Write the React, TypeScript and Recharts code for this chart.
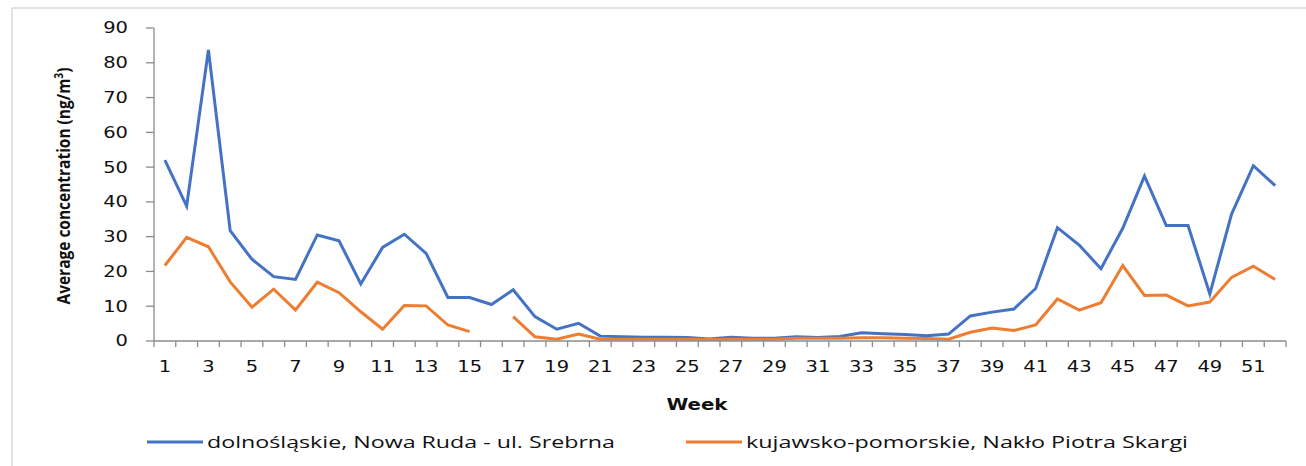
import React from "react";
import { LineChart, Line, XAxis, YAxis, Label } from "recharts";

const weeks = [
  "1", "2", "3", "4", "5", "6", "7", "8", "9", "10", "11", "12", "13",
  "14", "15", "16", "17", "18", "19", "20", "21", "22", "23", "24", "25", "26",
  "27", "28", "29", "30", "31", "32", "33", "34", "35", "36", "37", "38", "39",
  "40", "41", "42", "43", "44", "45", "46", "47", "48", "49", "50", "51", "52",
];

const nowaRuda = [
  52.0, 38.8, 83.7, 31.7, 23.5, 18.5, 17.7, 30.5, 28.8, 16.4, 26.9, 30.7, 25.2,
  12.5, 12.5, 10.5, 14.7, 7.0, 3.4, 5.1, 1.4, 1.2, 1.1, 1.1, 1.0, 0.6,
  1.1, 0.8, 0.8, 1.2, 1.0, 1.3, 2.4, 2.1, 1.9, 1.5, 2.0, 7.2, 8.3,
  9.2, 15.1, 32.6, 27.6, 20.8, 32.4, 47.4, 33.2, 33.2, 13.5, 36.5, 50.4, 44.7,
];

const naklo = [
  21.7, 29.8, 27.1, 17.0, 9.7, 14.9, 8.9, 16.9, 13.9, 8.4, 3.4, 10.2, 10.1,
  4.6, 2.7, null, 7.0, 1.2, 0.5, 2.0, 0.5, 0.5, 0.5, 0.5, 0.5, 0.4,
  0.5, 0.5, 0.5, 0.8, 0.8, 0.8, 0.9, 0.9, 0.8, 0.7, 0.5, 2.5, 3.7,
  3.0, 4.6, 12.1, 8.9, 11.0, 21.7, 13.1, 13.2, 10.1, 11.2, 18.3, 21.5, 17.7,
];

const yTicks = [0, 10, 20, 30, 40, 50, 60, 70, 80, 90];

const seriesNames = [
  "dolnośląskie, Nowa Ruda - ul. Srebrna",
  "kujawsko-pomorskie, Nakło Piotra Skargi",
];

const data = weeks.map((w, i) => ({ week: w, nowa: nowaRuda[i], naklo: naklo[i] }));

const W = 1306;
const H = 466;
const PLOT_LEFT = 154;
const PLOT_RIGHT = 1286;
const PLOT_TOP = 28;
const PLOT_BOTTOM = 341;
const BAND = (PLOT_RIGHT - PLOT_LEFT) / weeks.length;
const AXIS = "#8c8c8c";
const BLUE = "#4472C4";
const ORANGE = "#ED7D31";
const TICK_FONT = "'DejaVu Sans', Verdana, sans-serif";

const XTick = (props: any) => {
  const { x, y, index } = props;
  const left = x - BAND / 2;
  return (
    <g>
      <line x1={left} y1={y} x2={left} y2={y + 6} stroke={AXIS} strokeWidth={1.3} />
      {index === weeks.length - 1 && (
        <line x1={x + BAND / 2} y1={y} x2={x + BAND / 2} y2={y + 6} stroke={AXIS} strokeWidth={1.3} />
      )}
      {index % 2 === 0 && (
        <text
          transform={`translate(${x},${y + 31}) scale(1.3,1)`}
          textAnchor="middle"
          fontFamily={TICK_FONT}
          fontSize={15}
          fill="#111"
        >
          {props.payload.value}
        </text>
      )}
    </g>
  );
};

const YTick = (props: any) => {
  const { x, y, payload } = props;
  return (
    <text
      transform={`translate(${x},${y}) scale(1.3,1)`}
      textAnchor="end"
      dy="0.36em"
      fontFamily={TICK_FONT}
      fontSize={15}
      fill="#111"
    >
      {payload.value}
    </text>
  );
};

const YTitle = () => (
  <text
    transform="translate(70,186) rotate(-90)"
    textAnchor="middle"
    fontFamily="'Open Sans', sans-serif"
    fontWeight="bold"
    fontSize={18}
    fill="#111"
    textLength={237}
    lengthAdjust="spacingAndGlyphs"
  >
    Average concentration (ng/m
    <tspan fontSize={12} dy={-7}>3</tspan>
    <tspan dy={7}>)</tspan>
  </text>
);

const XTitle = () => (
  <text
    x={697}
    y={410}
    textAnchor="middle"
    fontFamily={TICK_FONT}
    fontWeight="bold"
    fontSize={15}
    fill="#111"
    textLength={61}
    lengthAdjust="spacingAndGlyphs"
  >
    Week
  </text>
);

const LegendOverlay = () => (
  <svg width={W} height={H} style={{ position: "absolute", left: 0, top: 0, pointerEvents: "none" }}>
    <line x1={12} y1={8} x2={W} y2={8} stroke="#d9d9d9" strokeWidth={1.5} />
    <line x1={12} y1={8} x2={12} y2={H} stroke="#d9d9d9" strokeWidth={1.5} />
    <line x1={147} y1={442} x2={203} y2={442} stroke={BLUE} strokeWidth={3} />
    <text
      x={207}
      y={448}
      fontFamily="'Open Sans', sans-serif"
      fontSize={16}
      fill="#111"
      textLength={408}
      lengthAdjust="spacingAndGlyphs"
    >
      {seriesNames[0]}
    </text>
    <line x1={686} y1={442} x2={742} y2={442} stroke={ORANGE} strokeWidth={3} />
    <text
      x={746}
      y={448}
      fontFamily="'Open Sans', sans-serif"
      fontSize={16}
      fill="#111"
      textLength={442}
      lengthAdjust="spacingAndGlyphs"
    >
      {seriesNames[1]}
    </text>
  </svg>
);

export default function App() {
  return (
    <div style={{ position: "absolute", left: 0, top: 0, width: W, height: H, background: "#fff" }}>
      <LineChart
        width={W}
        height={H}
        data={data}
        margin={{ top: PLOT_TOP, right: W - PLOT_RIGHT, bottom: 0, left: 0 }}
      >
        <XAxis
          dataKey="week"
          interval={0}
          padding={{ left: BAND / 2, right: BAND / 2 }}
          tickLine={false}
          tickSize={0}
          tickMargin={0}
          tick={<XTick />}
          height={H - PLOT_BOTTOM}
          axisLine={{ stroke: AXIS, strokeWidth: 1.3 }}
        >
          <Label content={<XTitle />} />
        </XAxis>
        <YAxis
          width={PLOT_LEFT}
          domain={[0, 90]}
          ticks={yTicks}
          interval={0}
          tickSize={8}
          tickMargin={18}
          tick={<YTick />}
          tickLine={{ stroke: AXIS, strokeWidth: 1.3 }}
          axisLine={{ stroke: AXIS, strokeWidth: 1.3 }}
        >
          <Label content={<YTitle />} />
        </YAxis>
        <Line
          type="linear"
          dataKey="nowa"
          name={seriesNames[0]}
          stroke={BLUE}
          strokeWidth={3}
          dot={false}
          isAnimationActive={false}
        />
        <Line
          type="linear"
          dataKey="naklo"
          name={seriesNames[1]}
          stroke={ORANGE}
          strokeWidth={3}
          dot={false}
          isAnimationActive={false}
        />
      </LineChart>
      <LegendOverlay />
    </div>
  );
}
